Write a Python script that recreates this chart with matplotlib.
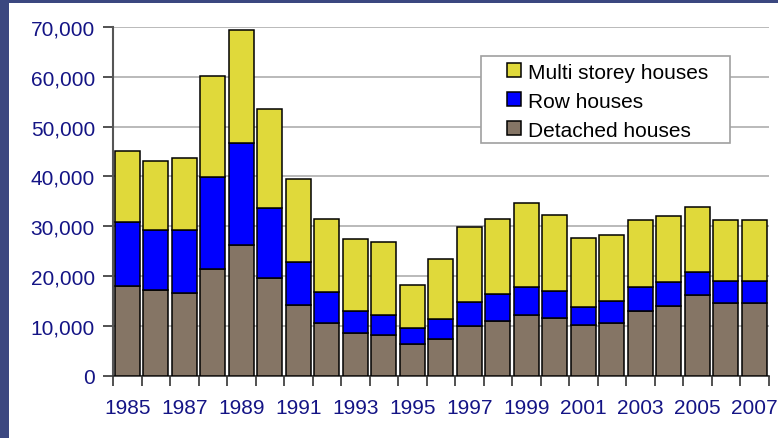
import numpy as np
import matplotlib
matplotlib.use("Agg")
from matplotlib import pyplot as plt
from matplotlib.patches import Rectangle

plt.rcParams['font.family'] = ['Liberation Sans', 'DejaVu Sans']

years = list(range(1985, 2008))
# cumulative tops
detached = [18100, 17200, 16600, 21500, 26200, 19700, 14300, 10700, 8700, 8200,
            6500, 7400, 10000, 11100, 12200, 11600, 10200, 10700, 13000, 14000,
            16300, 14600, 14600]
row_top = [30800, 29300, 29300, 39800, 46700, 33600, 22900, 16800, 13000, 12300,
           9700, 11400, 14800, 16400, 17900, 17100, 13800, 15000, 17900, 18800,
           20900, 19100, 19100]
total = [45000, 43000, 43600, 60200, 69300, 53500, 39400, 31500, 27500, 26800,
         18300, 23500, 29800, 31500, 34700, 32300, 27700, 28200, 31300, 32000,
         33800, 31200, 31200]

row = np.array(row_top) - np.array(detached)
multi = np.array(total) - np.array(row_top)

fig = plt.figure(figsize=(7.78, 4.39), dpi=100)
fig.patch.set_facecolor('#3b4780')
# white panel, blue strip on the left and top
fig.add_artist(Rectangle((9 / 778, 0), 1, 1 - 4 / 439, transform=fig.transFigure,
                         facecolor='white', edgecolor='none', zorder=-10))

ax = fig.add_axes([113 / 778, 1 - 377 / 439, 655.7 / 778, 349.3 / 439])
ax.set_facecolor('white')

x = np.arange(len(years))
w = 0.88
kw = dict(width=w, edgecolor='black', linewidth=1.1, zorder=3)
b1 = ax.bar(x, detached, color='#857565', label='Detached houses', **kw)
b2 = ax.bar(x, row, bottom=detached, color='#0000ff', label='Row houses', **kw)
b3 = ax.bar(x, multi, bottom=row_top, color='#e0d93a', label='Multi storey houses', **kw)

ax.set_xlim(-0.5, len(years) - 0.5)
ax.set_ylim(0, 70000)
ax.set_yticks(range(0, 70001, 10000))
ax.set_yticklabels([f'{v:,}' for v in range(0, 70001, 10000)])
ax.yaxis.grid(True, color='#b4b4b4', linewidth=1.3, zorder=0)
ax.set_axisbelow(True)

ax.set_xticks(x[::2])
ax.set_xticklabels([str(y) for y in years[::2]])
ax.set_xticks(np.arange(-0.5, len(years), 1), minor=True)
ax.tick_params(axis='x', which='major', length=0, pad=16)
ax.tick_params(axis='x', which='minor', length=7, width=1.2, color='#333333',
               direction='out')
ax.tick_params(axis='y', length=7, width=1.2, color='#333333', pad=6)
ax.tick_params(labelsize=15, labelcolor='#141485')

for s in ['top', 'right']:
    ax.spines[s].set_visible(False)
ax.spines['left'].set_color('#555555')
ax.spines['left'].set_linewidth(1.5)
ax.spines['bottom'].set_color('#333333')
ax.spines['bottom'].set_linewidth(1.2)

# legend box drawn separately so it can be wider than the entries
ax.add_patch(Rectangle((0.561, 0.667), 0.38, 0.248, transform=ax.transAxes,
                       facecolor='white', edgecolor='#a0a0a0', linewidth=1.2,
                       zorder=4))
leg = ax.legend([b3, b2, b1], ['Multi storey houses', 'Row houses', 'Detached houses'],
                loc='upper left', bbox_to_anchor=(0.601, 0.897), fontsize=15,
                frameon=False, handlelength=0.65, handleheight=0.65,
                handletextpad=0.35, labelspacing=0.48, borderpad=0,
                borderaxespad=0)
leg.set_zorder(5)

fig.savefig('out.png', dpi=100, facecolor=fig.get_facecolor())
